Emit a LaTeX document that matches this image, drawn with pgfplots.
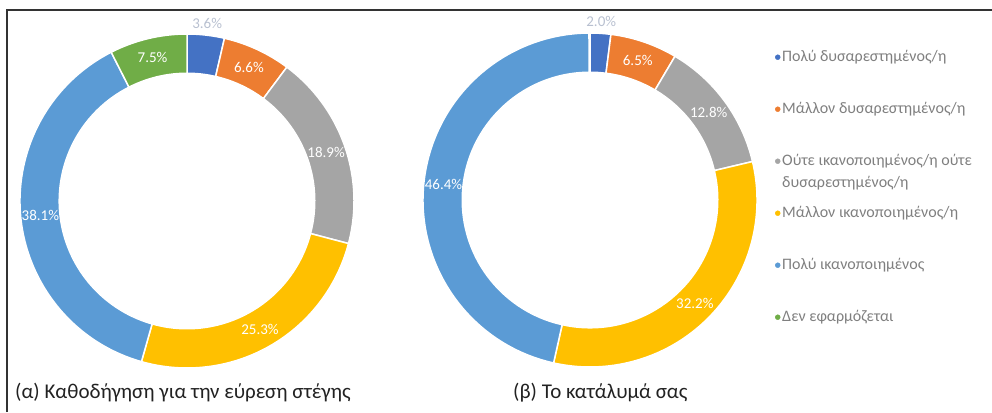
\documentclass[border=0pt]{standalone}
\usepackage{pgfplots}
\usepackage{pgfplotstable}
\pgfplotsset{compat=1.18}
\usepackage{fontspec}
\setmainfont{Carlito}

\definecolor{c1}{HTML}{4472C4}
\definecolor{c2}{HTML}{ED7D31}
\definecolor{c3}{HTML}{A5A5A5}
\definecolor{c4}{HTML}{FFC000}
\definecolor{c5}{HTML}{5B9BD5}
\definecolor{c6}{HTML}{70AD47}
\definecolor{labout}{HTML}{B8C0D0}
\definecolor{legtext}{HTML}{7F7F7F}
\definecolor{captext}{HTML}{222222}
\definecolor{frame}{HTML}{333333}

% (a) guidance for finding housing
\pgfplotstableread{
value color
3.6  c1
6.6  c2
18.9 c3
25.3 c4
38.1 c5
7.5  c6
}\dataA

% (b) your accommodation
\pgfplotstableread{
value color
2.0  c1
6.5  c2
12.8 c3
32.2 c4
46.4 c5
}\dataB

\def\Rout{167}
\def\ri{0.765}
\pgfmathsetmacro\Rin{\Rout*\ri}

% draws the ring slices of one table, clockwise from the top
\newcommand\donut[1]{%
  \pgfplotstablegetrowsof{#1}%
  \pgfmathtruncatemacro\nrows{\pgfplotsretval-1}%
  \def\cum{0}%
  \pgfplotsforeachungrouped \i in {0,...,\nrows}{%
    \pgfplotstablegetelem{\i}{value}\of#1\let\v\pgfplotsretval
    \pgfplotstablegetelem{\i}{color}\of#1\let\c\pgfplotsretval
    \pgfmathsetmacro\a{90-3.6*\cum}%
    \pgfmathsetmacro\b{90-3.6*(\cum+\v)}%
    \pgfmathsetmacro\m{(\a+\b)/2}%
    \pgfmathsetmacro\cum{\cum+\v}%
    \ifdim\v pt<5pt \def\lc{labout}\def\lr{1.072}\else\def\lc{white}\def\lr{0.8825}\fi
    \edef\temp{%
      \noexpand\fill[\c, draw=white, line width=1.5pt]
        (axis cs:{cos(\a)},{sin(\a)}) arc[start angle=\a, end angle=\b, radius=\Rout pt]
        -- (axis cs:{\ri*cos(\b)},{\ri*sin(\b)}) arc[start angle=\b, end angle=\a, radius=\Rin pt]
        -- cycle;
      \noexpand\node[text=\lc, font=\noexpand\fontsize{15}{18}\noexpand\selectfont]
        at (axis cs:{\lr*cos(\m)},{\lr*sin(\m)})
        {\noexpand\pgfmathprintnumber[fixed, fixed zerofill, precision=1, assume math mode=true]{\v}\noexpand\%};%
    }%
    \temp
  }%
}

\pgfplotsset{
  ring/.style={
    x=\Rout pt, y=\Rout pt,
    xmin=-1, xmax=1, ymin=-1, ymax=1,
    hide axis, clip=false, anchor=origin,
  },
}

\begin{document}
\begin{tikzpicture}
\useasboundingbox (0,0) rectangle (992pt,-412pt);
\draw[frame, line width=2pt] (7pt,-412pt) -- (7pt,-10pt) -- (992pt,-10pt);

\begin{axis}[ring, at={(187pt,-201pt)}]
  \donut{\dataA}
\end{axis}

\begin{axis}[ring, at={(590pt,-200pt)},
  legend image code/.code={\draw[#1, only marks, mark=*, mark size=2.5pt] plot coordinates {(0pt,0pt)};},
  legend style={at={(axis cs:1.108,0.904)}, anchor=north west, draw=none, fill=none,
    inner sep=0pt, row sep=36pt, text=legtext,
    font=\fontsize{16}{22}\selectfont,
    nodes={text height=12pt, text depth=4pt, inner ysep=0pt, anchor=west}},
  legend cell align=left]
  \donut{\dataB}
  \addlegendimage{c1}\addlegendentry{Πολύ δυσαρεστημένος/η}
  \addlegendimage{c2}\addlegendentry{Μάλλον δυσαρεστημένος/η}
  \addlegendimage{c3}\addlegendentry{\raisebox{0pt}[12pt][0pt]{\parbox[t]{200pt}{Ούτε ικανοποιημένος/η ούτε\\δυσαρεστημένος/η}}}
  \addlegendimage{c4}\addlegendentry{Μάλλον ικανοποιημένος/η}
  \addlegendimage{c5}\addlegendentry{Πολύ ικανοποιημένος}
  \addlegendimage{c6}\addlegendentry{Δεν εφαρμόζεται}
\end{axis}

\node[anchor=base west, text=captext, font=\fontsize{21}{25}\selectfont, inner sep=0pt]
  at (15pt,-398pt) {(α) Καθοδήγηση για την εύρεση στέγης};
\node[anchor=base west, text=captext, font=\fontsize{21}{25}\selectfont, inner sep=0pt]
  at (513pt,-398pt) {(β) Το κατάλυμά σας};
\end{tikzpicture}
\end{document}
